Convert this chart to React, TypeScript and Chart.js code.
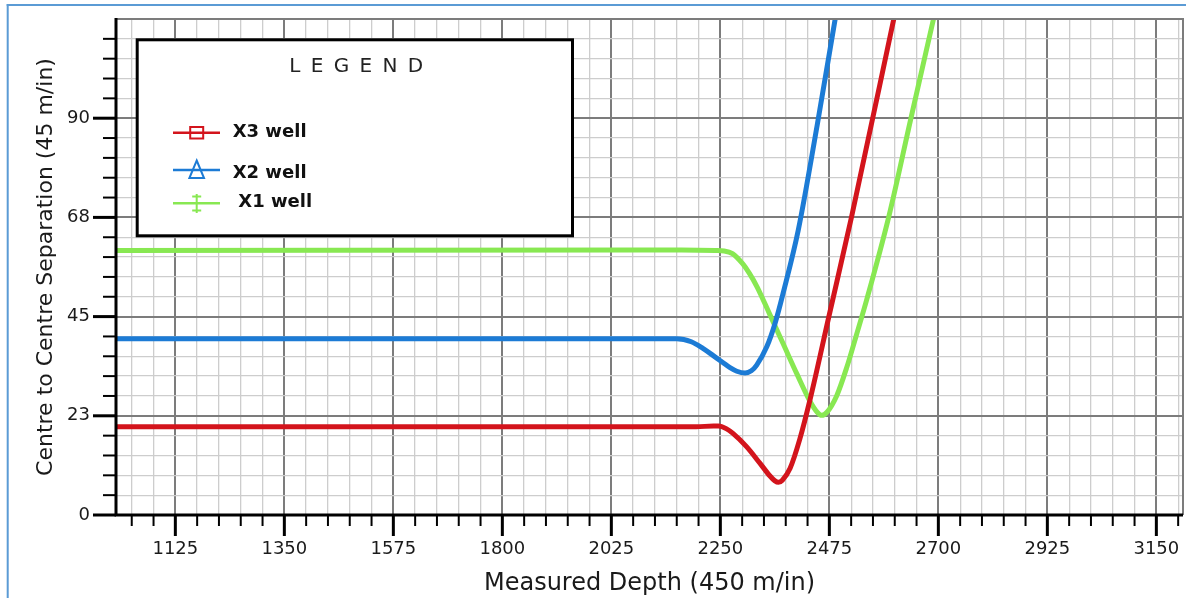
import { useEffect, useRef } from "react";
import { Chart, registerables } from "chart.js";

Chart.register(...registerables);

const FONT = "'DejaVu Sans', 'Liberation Sans', sans-serif";

// ---- Series data (Measured Depth vs Centre to Centre Separation) ----
const x3Depth = [1002.5, 2200, 2236, 2246, 2262, 2276, 2304, 2332, 2352, 2362, 2370, 2378, 2394, 2414, 2435, 2474, 2521, 2608];
const x3Sep = [20, 20, 20.2, 20.2, 19.6, 18.5, 15.5, 11.7, 8.9, 7.8, 7.4, 7.9, 10.6, 17.2, 26.1, 45, 67.7, 112.5];

const x2Depth = [1002.5, 2160, 2190, 2214, 2236, 2255, 2270, 2284, 2301, 2314, 2325, 2346, 2363, 2380, 2411, 2450, 2487];
const x2Sep = [40, 40, 39.3, 37.8, 36.1, 34.6, 33.4, 32.6, 32.2, 32.7, 34.0, 38.2, 43.5, 50.5, 64.7, 88.5, 112.5];

const x1Depth = [1002.5, 2170, 2240, 2258, 2275, 2296, 2310, 2326, 2352, 2379, 2408, 2435, 2450, 2459, 2470, 2490, 2511, 2530, 2552, 2598, 2643, 2690];
const x1Sep = [60, 60.1, 60, 59.9, 59.3, 57.0, 54.8, 51.7, 45.5, 39, 32, 25.8, 23.3, 22.6, 23.3, 27, 33.5, 40.5, 48.8, 67.8, 89.8, 112.5];

const seriesLabels = ["X3 well", "X2 well", "X1 well"];
const seriesColors = ["#d3141c", "#1c7bd5", "#88e852"];

// ---- Axes ----
const xMajorTicks = [1125, 1350, 1575, 1800, 2025, 2250, 2475, 2700, 2925, 3150];
const xTickLabels = ["1125", "1350", "1575", "1800", "2025", "2250", "2475", "2700", "2925", "3150"];
const yMajorTicks = [0, 22.5, 45, 67.5, 90];
const yTickLabels = ["0", "23", "45", "68", "90"];

const X_MIN = 1002.5;
const X_MAX = 3205;
const Y_MIN = 0;
const Y_MAX = 112.5;
const X_MINOR_START = 1035;
const X_MINOR_END = 3195;
const X_MINOR_STEP = 45;
const Y_MINOR_END = 108;
const Y_MINOR_STEP = 4.5;

function buildTicks(start: number, end: number, step: number): number[] {
  const out: number[] = [];
  const n = Math.round((end - start) / step);
  for (let i = 0; i <= n; i++) out.push(start + i * step);
  return out;
}
const xTickValues = buildTicks(X_MINOR_START, X_MINOR_END, X_MINOR_STEP);
const yTickValues = buildTicks(0, Y_MINOR_END, Y_MINOR_STEP);

const majorIndex = (v: number, majors: number[]) => majors.findIndex((m) => Math.abs(m - v) < 1e-6);

const MAJOR_GRID = "#7c7c7c";
const MINOR_GRID = "#cdcdcd";
const TEXT = "#1a1a1a";

const zip = (xs: number[], ys: number[]) => xs.map((x, i) => ({ x, y: ys[i] }));

const decorPlugin = {
  id: "decor",
  beforeDraw(chart: any) {
    const { ctx } = chart;
    ctx.save();
    ctx.fillStyle = "#5b9bd5";
    ctx.fillRect(6.7, 4, 2, 594);
    ctx.fillRect(6.7, 4, 1180, 2);
    ctx.restore();
  },
  afterDraw(chart: any) {
    const { ctx, chartArea } = chart;
    const { left, top, right, bottom } = chartArea;
    const xs = chart.scales.x;
    const ys = chart.scales.y;
    ctx.save();

    // plot frame (top / right)
    ctx.strokeStyle = MAJOR_GRID;
    ctx.lineWidth = 2;
    ctx.beginPath();
    ctx.moveTo(left, top);
    ctx.lineTo(right, top);
    ctx.lineTo(right, bottom);
    ctx.stroke();

    // tick marks
    ctx.strokeStyle = "#000";
    ctx.lineCap = "butt";
    for (const v of xTickValues) {
      const major = majorIndex(v, xMajorTicks) >= 0;
      const px = xs.getPixelForValue(v);
      ctx.lineWidth = major ? 3 : 2;
      ctx.beginPath();
      ctx.moveTo(px, bottom);
      ctx.lineTo(px, bottom + (major ? 21 : 11));
      ctx.stroke();
    }
    for (const v of yTickValues) {
      const major = majorIndex(v, yMajorTicks) >= 0;
      const py = ys.getPixelForValue(v);
      ctx.lineWidth = major ? 3 : 2;
      ctx.beginPath();
      ctx.moveTo(left - (major ? 23 : 13), py);
      ctx.lineTo(left, py);
      ctx.stroke();
    }

    // axis lines
    ctx.lineWidth = 3;
    ctx.beginPath();
    ctx.moveTo(left, top - 1);
    ctx.lineTo(left, bottom);
    ctx.lineTo(right, bottom);
    ctx.stroke();

    // legend box
    ctx.fillStyle = "#fff";
    ctx.fillRect(137.2, 39.8, 435.3, 196);
    ctx.strokeStyle = "#000";
    ctx.lineWidth = 3;
    ctx.strokeRect(137.2, 39.8, 435.3, 196);

    ctx.fillStyle = "#222";
    ctx.font = `20px ${FONT}`;
    ctx.textAlign = "left";
    ctx.textBaseline = "alphabetic";
    try {
      (ctx as any).letterSpacing = "10.3px";
    } catch (e) {}
    ctx.fillText("LEGEND", 289.3, 71.5);
    try {
      (ctx as any).letterSpacing = "0px";
    } catch (e) {}

    const ds = chart.data.datasets;
    const rowsY = [132.7, 170, 203.3];
    const textY = [137, 178.3, 206.6];
    const textX = [232.7, 232.7, 238.3];
    const mx = 196.7;
    ds.forEach((d: any, i: number) => {
      const y = rowsY[i];
      ctx.strokeStyle = d.borderColor;
      ctx.lineWidth = 2.5;
      ctx.beginPath();
      ctx.moveTo(173, y);
      ctx.lineTo(220, y);
      ctx.stroke();
      ctx.lineWidth = 2;
      ctx.beginPath();
      if (i === 0) {
        ctx.rect(mx - 6.5, y - 5.8, 13, 11.6);
      } else if (i === 1) {
        ctx.moveTo(mx, 160.5);
        ctx.lineTo(mx + 7.3, 178);
        ctx.lineTo(mx - 7.3, 178);
        ctx.closePath();
      } else {
        ctx.moveTo(mx, 194);
        ctx.lineTo(mx, 213);
        ctx.moveTo(mx - 4.5, 196.5);
        ctx.lineTo(mx + 4.5, 196.5);
        ctx.moveTo(mx - 4.5, 210.5);
        ctx.lineTo(mx + 4.5, 210.5);
      }
      ctx.stroke();
      ctx.fillStyle = "#111";
      ctx.font = `bold 18px ${FONT}`;
      ctx.fillText(d.label, textX[i], textY[i]);
    });

    ctx.restore();
  },
};

export default function App() {
  const ref = useRef<HTMLCanvasElement>(null);

  useEffect(() => {
    if (!ref.current) return;
    const depthSeries = [x3Depth, x2Depth, x1Depth];
    const sepSeries = [x3Sep, x2Sep, x1Sep];
    const chart = new Chart(ref.current, {
      type: "line",
      data: {
        datasets: seriesLabels.map((label, i) => ({
          label,
          data: zip(depthSeries[i], sepSeries[i]),
          borderColor: seriesColors[i],
          backgroundColor: seriesColors[i],
          borderWidth: 5,
          pointRadius: 0,
          fill: false,
          cubicInterpolationMode: "monotone" as const,
          borderCapStyle: "round" as const,
          borderJoinStyle: "round" as const,
        })),
      },
      options: {
        animation: false,
        responsive: false,
        maintainAspectRatio: false,
        devicePixelRatio: 1,
        layout: { padding: { top: 19, right: 3, left: 0, bottom: 0 } },
        plugins: {
          legend: { display: false },
          tooltip: { enabled: false },
        },
        scales: {
          x: {
            type: "linear",
            min: X_MIN,
            max: X_MAX,
            afterBuildTicks: (s: any) => {
              s.ticks = xTickValues.map((v) => ({ value: v }));
            },
            afterFit: (s: any) => {
              s.height = 83;
            },
            ticks: {
              autoSkip: false,
              maxRotation: 0,
              minRotation: 0,
              padding: 3,
              color: TEXT,
              font: { family: FONT, size: 18 },
              callback: (v: any) => {
                const k = majorIndex(Number(v), xMajorTicks);
                return k >= 0 ? xTickLabels[k] : "";
              },
            },
            grid: {
              color: (c: any) => (c.tick && majorIndex(c.tick.value, xMajorTicks) >= 0 ? MAJOR_GRID : MINOR_GRID),
              lineWidth: (c: any) => (c.tick && majorIndex(c.tick.value, xMajorTicks) >= 0 ? 2 : 1.3),
              drawTicks: true,
              tickLength: 21,
              tickColor: "rgba(0,0,0,0)",
            },
            border: { display: false },
            title: {
              display: true,
              text: "Measured Depth (450 m/in)",
              color: TEXT,
              font: { family: FONT, size: 24 },
              padding: { top: 0, bottom: 0 },
            },
          },
          y: {
            type: "linear",
            min: Y_MIN,
            max: Y_MAX,
            afterBuildTicks: (s: any) => {
              s.ticks = yTickValues.map((v) => ({ value: v }));
            },
            afterFit: (s: any) => {
              s.width = 116;
            },
            ticks: {
              autoSkip: false,
              padding: 3,
              color: TEXT,
              font: { family: FONT, size: 18 },
              callback: (v: any) => {
                const k = majorIndex(Number(v), yMajorTicks);
                return k >= 0 ? yTickLabels[k] : "";
              },
            },
            grid: {
              color: (c: any) => (c.tick && majorIndex(c.tick.value, yMajorTicks) >= 0 ? MAJOR_GRID : MINOR_GRID),
              lineWidth: (c: any) => (c.tick && majorIndex(c.tick.value, yMajorTicks) >= 0 ? 2 : 1.3),
              drawTicks: true,
              tickLength: 23,
              tickColor: "rgba(0,0,0,0)",
            },
            border: { display: false },
            title: {
              display: true,
              text: "Centre to Centre Separation (45 m/in)",
              color: TEXT,
              font: { family: FONT, size: 22 },
              padding: { top: 33, bottom: 0 },
            },
          },
        },
      },
      plugins: [decorPlugin],
    } as any);
    return () => chart.destroy();
  }, []);

  return (
    <div style={{ position: "fixed", left: 0, top: 0, width: 1186, height: 598, background: "#fff" }}>
      <canvas ref={ref} width={1186} height={598} style={{ display: "block", width: 1186, height: 598 }} />
    </div>
  );
}
